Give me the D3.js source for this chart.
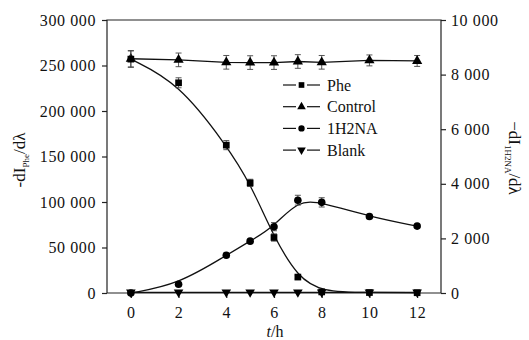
<!DOCTYPE html>
<html>
<head>
<meta charset="utf-8">
<script src="https://cdn.jsdelivr.net/npm/d3@7"></script>
<style>
  body { margin: 0; background: #fff; }
</style>
</head>
<body>
<div id="chart"></div>
<script>
// time points (h)
var hours = [0, 2, 4, 5, 6, 7, 8, 10, 12];
// left axis: Phe
var pheVals = [257000, 231000, 162500, 121000, 61000, 17500, 1200, 500, 300];
var pheErr = [9000, 5500, 5000, 4000, 4000, 2000, 800, 500, 500];
// right axis: Control, 1H2NA, Blank
var controlVals = [8580, 8540, 8450, 8440, 8440, 8480, 8450, 8520, 8500];
var controlErr = [300, 250, 250, 250, 250, 250, 250, 200, 200];
var naVals = [0, 320, 1380, 1900, 2430, 3400, 3320, 2800, 2450];
var naErr = [60, 60, 80, 60, 150, 180, 170, 80, 60];
var blankVals = [25, 25, 25, 25, 25, 25, 25, 25, 25];

var xTicks = [0, 2, 4, 6, 8, 10, 12];
var leftTicks = [0, 50000, 100000, 150000, 200000, 250000, 300000];
var rightTicks = [0, 2000, 4000, 6000, 8000, 10000];

var W = 529, H = 340;
var L = 107, R = 441, T = 20, B = 293;
var FONT = "'Liberation Serif', 'Times New Roman', serif";

var svg = d3.select("#chart").append("svg").attr("width", W).attr("height", H)
  .attr("font-family", FONT);

var x = d3.scaleLinear().domain([-1, 13]).range([L, R]);
var yL = d3.scaleLinear().domain([0, 300000]).range([B, T]);
var yR = d3.scaleLinear().domain([0, 10000]).range([B, T]);

var loc = d3.formatLocale({ decimal: ".", thousands: " ", grouping: [3], currency: ["", ""] });
var fmt = loc.format(",d");

function styleAxis(g) {
  g.attr("font-family", FONT).attr("font-size", 16);
  g.select(".domain").remove();
  g.selectAll(".tick line").attr("stroke", "#222").attr("stroke-width", 1.2);
  g.selectAll(".tick text").attr("fill", "#111").style("letter-spacing", "0.6px");
}

svg.append("g").attr("transform", "translate(0," + B + ")")
  .call(d3.axisBottom(x).tickValues(xTicks).tickSize(5).tickPadding(9).tickFormat(d3.format("d")))
  .call(styleAxis);
svg.append("g").attr("transform", "translate(" + L + ",0)")
  .call(d3.axisLeft(yL).tickValues(leftTicks).tickSize(5).tickPadding(6).tickFormat(fmt))
  .call(styleAxis);
svg.append("g").attr("transform", "translate(" + R + ",0)")
  .call(d3.axisRight(yR).tickValues(rightTicks).tickSize(5).tickPadding(5).tickFormat(fmt))
  .call(styleAxis);
// frame
svg.append("path")
  .attr("d", "M" + L + "," + T + "H" + R + "V" + B + "H" + L + "Z")
  .attr("fill", "none").attr("stroke", "#222").attr("stroke-width", 1.2);

function series(vals, err, yS, curve, marker, size) {
  var pts = hours.map(function(h, i) { return { t: h, v: vals[i], e: err ? err[i] : 0 }; });
  var line = d3.line().x(function(d) { return x(d.t); }).y(function(d) { return yS(d.v); }).curve(curve);
  svg.append("path").datum(pts).attr("d", line)
    .attr("fill", "none").attr("stroke", "#111").attr("stroke-width", 1.3);
  if (err) {
    var eb = svg.append("g").attr("stroke", "#444").attr("stroke-width", 0.9);
    pts.forEach(function(d) {
      if (d.e <= 0) return;
      var y1 = yS(d.v + d.e), y2 = yS(d.v - d.e), cx = x(d.t);
      eb.append("line").attr("x1", cx).attr("x2", cx).attr("y1", y1).attr("y2", y2);
      eb.append("line").attr("x1", cx - 3).attr("x2", cx + 3).attr("y1", y1).attr("y2", y1);
      eb.append("line").attr("x1", cx - 3).attr("x2", cx + 3).attr("y1", y2).attr("y2", y2);
    });
  }
  svg.append("g").selectAll("path").data(pts).enter().append("path")
    .attr("d", d3.symbol().type(marker.type).size(size))
    .attr("transform", function(d) { return "translate(" + x(d.t) + "," + yS(d.v) + ")" + (marker.flip ? " rotate(180)" : ""); })
    .attr("fill", "#000");
}

var SQ = { type: d3.symbolSquare }, TRI = { type: d3.symbolTriangle },
    CIR = { type: d3.symbolCircle }, DTRI = { type: d3.symbolTriangle, flip: true };

series(blankVals, null, yR, d3.curveLinear, DTRI, 40);
series(controlVals, controlErr, yR, d3.curveLinear, TRI, 45);
series(naVals, naErr, yR, d3.curveBasis, CIR, 45);
series(pheVals, pheErr, yL, d3.curveBasis, SQ, 45);

// legend
var legNames = ["Phe", "Control", "1H2NA", "Blank"];
var legMarks = [SQ, TRI, CIR, DTRI];
var leg = svg.append("g");
legNames.forEach(function(n, i) {
  var yy = 85 + i * 21.7;
  leg.append("line").attr("x1", 283).attr("x2", 296).attr("y1", yy).attr("y2", yy).attr("stroke", "#111").attr("stroke-width", 1.2);
  leg.append("line").attr("x1", 307).attr("x2", 320).attr("y1", yy).attr("y2", yy).attr("stroke", "#111").attr("stroke-width", 1.2);
  leg.append("path").attr("d", d3.symbol().type(legMarks[i].type).size(32))
    .attr("transform", "translate(301.5," + yy + ")" + (legMarks[i].flip ? " rotate(180)" : ""));
  leg.append("text").attr("x", 327).attr("y", yy + 5.5).attr("font-size", 16).attr("fill", "#111").text(n);
});

// axis titles
var lt = svg.append("text").attr("transform", "translate(25,160) rotate(-90)")
  .attr("text-anchor", "middle").attr("font-size", 17).attr("fill", "#111");
lt.append("tspan").text("-dI");
lt.append("tspan").attr("font-size", 9).attr("dy", 4).text("Phe");
lt.append("tspan").attr("dy", -4).text("/dλ");

var rt = svg.append("text").attr("transform", "translate(509,158) rotate(90)")
  .attr("text-anchor", "middle").attr("font-size", 17).attr("fill", "#111");
rt.append("tspan").text("−dI");
rt.append("tspan").attr("font-size", 9).attr("dy", 4).text("1H2NA");
rt.append("tspan").attr("dy", -4).text("/dλ");

var xt = svg.append("text").attr("x", 275).attr("y", 337).attr("text-anchor", "middle")
  .attr("font-size", 16).attr("fill", "#111");
xt.append("tspan").attr("font-style", "italic").text("t");
xt.append("tspan").text("/h");
</script>
</body>
</html>
